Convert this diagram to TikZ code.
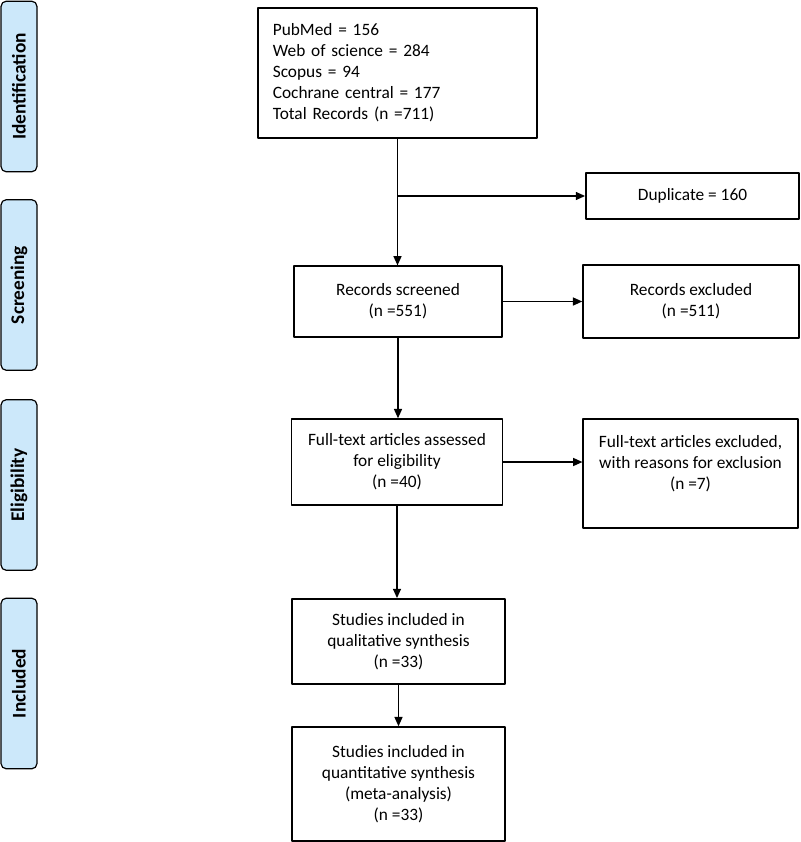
\documentclass[tikz,border=0pt]{standalone}
\usepackage{fontspec}
\setmainfont{Carlito}
\usetikzlibrary{arrows.meta}
\definecolor{phase}{RGB}{204,232,250}
\begin{document}
\begin{tikzpicture}[x=0.75pt,y=-0.75pt,font=\fontsize{13}{15.75}\selectfont, line join=round, >={Triangle[length=7pt,width=6pt]},
	box/.style={draw, line width=1.1pt, inner sep=0pt, align=center},
	phasebox/.style={draw, line width=0.9pt, fill=phase, rounded corners=4pt, rotate=90, inner sep=0pt,
		minimum width=128pt, minimum height=27pt, font=\fontsize{14.5}{16}\selectfont\bfseries}]
	\useasboundingbox (0,0) rectangle (800,842);
	% phases on the left
	\node[phasebox] (ident) at (19,86.5) {Identification};
	\node[phasebox] (scrn) at (19,285) {Screening};
	\node[phasebox] (elig) at (19,485) {Eligibility};
	\node[phasebox] (incl) at (19,683.5) {Included};
	% boxes
	\node[box, minimum width=209pt, minimum height=97.5pt, text width=187pt, align=left] (src) at (397.5,73) {PubMed = 156\\Web of science = 284\\Scopus = 94\\Cochrane central = 177\\Total Records (n =711)};
	\node[box, minimum width=160pt, minimum height=34.5pt] (dup) at (692.5,196) {Duplicate = 160};
	\node[box, minimum width=156pt, minimum height=53pt] (scr) at (398,301.5) {Records screened\\(n =551)};
	\node[box, minimum width=162pt, minimum height=55pt] (exc) at (691,301.5) {Records excluded\\(n =511)};
	\node[box, minimum width=158pt, minimum height=64.5pt] (ful) at (397,462) {Full-text articles assessed\\for eligibility\\(n =40)};
	\node[box, minimum width=161pt, minimum height=82pt] (fex) at (690.5,473.5) {};
	\node[align=center, inner sep=0pt] (fextxt) at (690.5,464) {Full-text articles excluded,\\with reasons for exclusion\\(n =7)};
	\node[box, minimum width=160pt, minimum height=64pt] (qual) at (398.5,641.5) {Studies included in\\qualitative synthesis\\(n =33)};
	\node[box, minimum width=160pt, minimum height=85.5pt] (quan) at (398.5,784) {Studies included in\\quantitative synthesis\\(meta-analysis)\\(n =33)};
	% arrows
	\coordinate (brk) at (src.south |- dup.west);
	\draw[line width=1.1pt,->] (src.south) -- (src.south |- scr.north);
	\draw[line width=1.1pt,->] (brk) -- (dup.west);
	\draw[line width=1.1pt,->] (scr.east) -- (exc.west);
	\draw[line width=1.1pt,->] (scr.south) -- (scr.south |- ful.north);
	\draw[line width=1.1pt,->] (ful.east) -- (ful.east -| fex.west);
	\draw[line width=1.1pt,->] (ful.south) -- (ful.south |- qual.north);
	\draw[line width=1.1pt,->] (qual.south) -- (qual.south |- quan.north);
\end{tikzpicture}
\end{document}
